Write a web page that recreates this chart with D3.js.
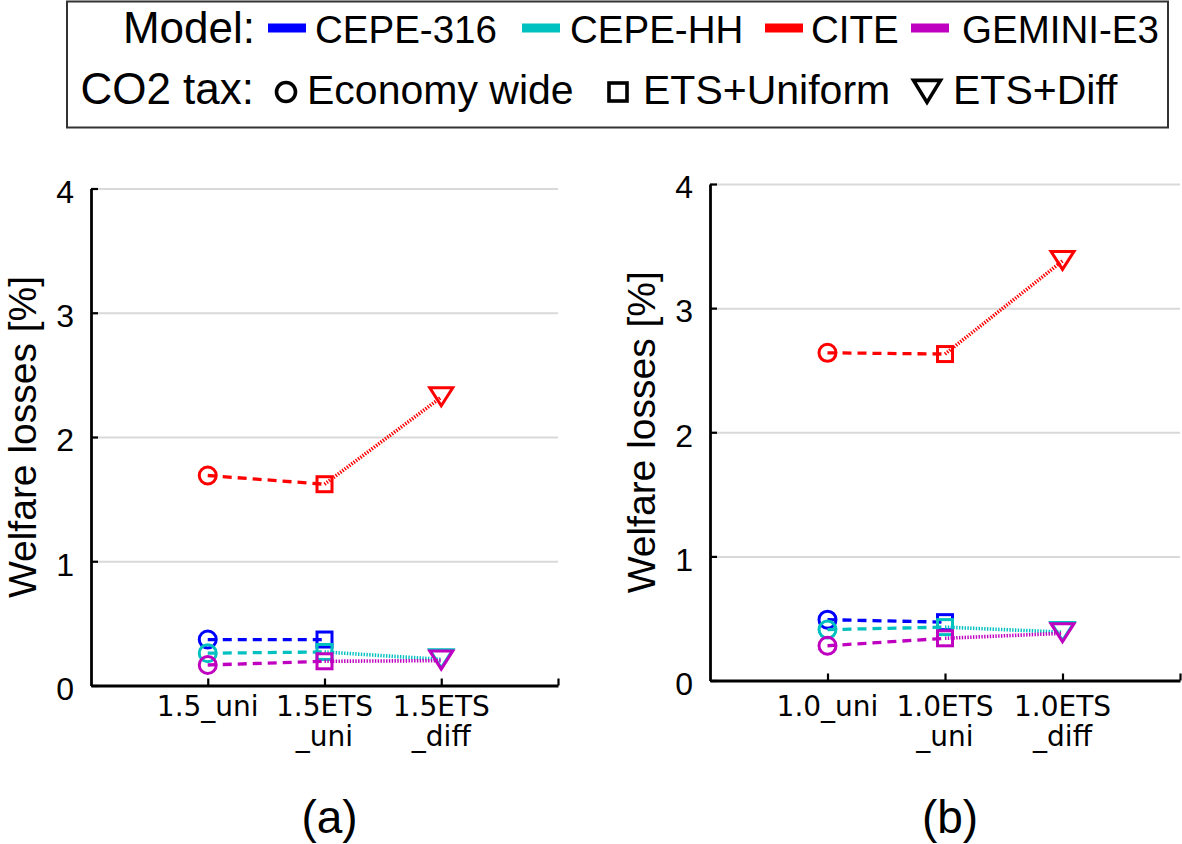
<!DOCTYPE html>
<html>
<head>
<meta charset="utf-8">
<script src="https://cdn.jsdelivr.net/npm/d3@7"></script>
<style>
  html, body { margin: 0; padding: 0; background: #ffffff; }
  svg { display: block; }
</style>
</head>
<body>
<svg id="chart" width="1182" height="844"></svg>
<script>
// ---------------- data ----------------
const models = ["CEPE-316", "CEPE-HH", "CITE", "GEMINI-E3"];
const modelColors = ["#0000ff", "#00c0c0", "#ff0000", "#c000c0"];
const taxTypes = ["Economy wide", "ETS+Uniform", "ETS+Diff"];
const yTicks = [0, 1, 2, 3, 4];

const scenariosA = ["1.5_uni", "1.5ETS\n_uni", "1.5ETS\n_diff"];
const scenariosB = ["1.0_uni", "1.0ETS\n_uni", "1.0ETS\n_diff"];

// welfare losses [%] per model, ordered as the scenarios (null = not reported)
const panelA_CEPE316 = [0.37, 0.37, null];
const panelA_CEPEHH  = [0.26, 0.27, 0.21];
const panelA_CITE    = [1.69, 1.62, 2.32];
const panelA_GEMINI  = [0.165, 0.195, 0.20];

const panelB_CEPE316 = [0.49, 0.47, null];
const panelB_CEPEHH  = [0.41, 0.43, 0.39];
const panelB_CITE    = [2.64, 2.63, 3.38];
const panelB_GEMINI  = [0.28, 0.34, 0.38];

const panels = [
  { tag: "(a)", cats: scenariosA, series: [panelA_CEPE316, panelA_CEPEHH, panelA_CITE, panelA_GEMINI],
    x0: 91, x1: 558, yTop: 188.5, yBot: 685.5 },
  { tag: "(b)", cats: scenariosB, series: [panelB_CEPE316, panelB_CEPEHH, panelB_CITE, panelB_GEMINI],
    x0: 710, x1: 1180, yTop: 184, yBot: 680.5 }
];

// ---------------- drawing ----------------
const svg = d3.select("#chart");
svg.append("rect").attr("width", 1182).attr("height", 844).attr("fill", "#fff");

const SANS = "'Liberation Sans', Arial, Helvetica, sans-serif";
const TICKFONT = "'DejaVu Sans', Verdana, sans-serif";

function markerShape(g, kind, cx, cy, color, size, sw) {
  if (kind === 0) {
    g.append("circle").attr("cx", cx).attr("cy", cy).attr("r", size.r)
      .attr("fill", "none").attr("stroke", color).attr("stroke-width", sw);
  } else if (kind === 1) {
    g.append("rect").attr("x", cx - size.s / 2).attr("y", cy - size.s / 2)
      .attr("width", size.s).attr("height", size.s)
      .attr("fill", "none").attr("stroke", color).attr("stroke-width", sw);
  } else {
    const w = size.tw / 2, hTop = size.th * 0.53, hBot = size.th * 0.47;
    g.append("path")
      .attr("d", `M${cx - w},${cy - hTop}L${cx + w},${cy - hTop}L${cx},${cy + hBot}Z`)
      .attr("fill", "none").attr("stroke", color).attr("stroke-width", sw)
      .attr("stroke-linejoin", "miter");
  }
}

panels.forEach(p => {
  const x = d3.scaleLinear().domain([0, 4]).range([p.x0, p.x1]);
  const y = d3.scaleLinear().domain([0, 4]).range([p.yBot, p.yTop]);
  const g = svg.append("g");

  // gridlines
  g.append("g")
    .attr("transform", `translate(${p.x0},0)`)
    .call(d3.axisLeft(y).tickValues(yTicks.filter(v => v > 0)).tickSize(-(p.x1 - p.x0)).tickFormat(""))
    .call(a => a.select(".domain").remove())
    .call(a => a.selectAll("line").attr("stroke", "#d9d9d9").attr("stroke-width", 2));

  // y axis
  g.append("g")
    .attr("transform", `translate(${p.x0},0)`)
    .call(d3.axisLeft(y).tickValues(yTicks).tickSize(-7).tickSizeOuter(0).tickPadding(17).tickFormat(d3.format("d")))
    .call(a => a.select(".domain").attr("stroke", "#000").attr("stroke-width", 2.8))
    .call(a => a.selectAll("line").attr("stroke", "#000").attr("stroke-width", 2.2))
    .call(a => a.selectAll("text").attr("font-family", SANS).attr("font-size", 32)
      .attr("fill", "#000").attr("dy", "0.43em"));

  // x axis
  g.append("g")
    .attr("transform", `translate(0,${p.yBot})`)
    .call(d3.axisBottom(x).tickValues([1, 2, 3, 4]).tickSize(-7).tickSizeOuter(0).tickFormat(""))
    .call(a => a.select(".domain").attr("stroke", "#000").attr("stroke-width", 2.8))
    .call(a => a.selectAll("line").attr("stroke", "#000").attr("stroke-width", 2.2));

  // x tick labels (one text per line)
  p.cats.forEach((c, i) => {
    c.split("\n").forEach((line, k) => {
      g.append("text")
        .attr("font-family", TICKFONT).attr("font-size", 28).attr("fill", "#000")
        .attr("text-anchor", "middle")
        .attr("x", x(i + 1)).attr("y", 716 + k * 30).text(line);
    });
  });

  // y title
  g.append("text")
    .attr("transform", `translate(${p.x0 - 55},${(p.yTop + p.yBot) / 2}) rotate(-90)`)
    .attr("text-anchor", "middle").attr("font-family", SANS).attr("font-size", 39)
    .attr("fill", "#000").text("Welfare losses [%]");

  // panel tag
  g.append("text")
    .attr("x", (p.x0 + p.x1) / 2 + 5).attr("y", 833)
    .attr("text-anchor", "middle").attr("font-family", SANS).attr("font-size", 46)
    .attr("fill", "#000").text(p.tag);

  // series
  p.series.forEach((vals, m) => {
    const color = modelColors[m];
    const sg = g.append("g");
    const pts = vals.map((v, i) => v == null ? null : [i + 1, v]);
    const line = d3.line().x(d => x(d[0])).y(d => y(d[1]));
    for (let i = 0; i < pts.length - 1; i++) {
      if (pts[i] && pts[i + 1]) {
        sg.append("path").attr("d", line([pts[i], pts[i + 1]]))
          .attr("fill", "none").attr("stroke", color)
          .attr("stroke-width", i === 0 ? 3.3 : 3.6)
          .attr("stroke-dasharray", i === 0 ? "9,6" : "1.4,1.4");
      }
    }
    pts.forEach((d, i) => {
      if (!d) return;
      markerShape(sg, i, x(d[0]), y(d[1]), color, { r: 8.5, s: 15, tw: 23, th: 18 }, 3);
    });
  });
});

// ---------------- legend ----------------
const lg = svg.append("g");
lg.append("rect").attr("x", 67).attr("y", 1.5).attr("width", 1101).attr("height", 126)
  .attr("fill", "#fff").attr("stroke", "#333").attr("stroke-width", 2);

lg.append("text").attr("x", 255).attr("y", 43).attr("text-anchor", "end")
  .attr("font-family", SANS).attr("font-size", 44).attr("fill", "#000").text("Model:");
lg.append("text").attr("x", 254).attr("y", 104).attr("text-anchor", "end")
  .attr("font-family", SANS).attr("font-size", 44).attr("fill", "#000").text("CO2 tax:");

const modelLegendX = [[268, 315], [522, 570], [765, 811], [911, 962]];
models.forEach((name, i) => {
  const [lx, tx] = modelLegendX[i];
  lg.append("line").attr("x1", lx).attr("x2", lx + 38).attr("y1", 28).attr("y2", 28)
    .attr("stroke", modelColors[i]).attr("stroke-width", 9);
  lg.append("text").attr("x", tx).attr("y", 43).attr("font-family", SANS)
    .attr("font-size", 38.5).attr("fill", "#000").text(name);
});

const taxLegendX = [[286, 307], [618, 643], [927, 953]];
taxTypes.forEach((name, i) => {
  const [mx, tx] = taxLegendX[i];
  markerShape(lg, i, mx, 92, "#000", { r: 9.5, s: 18, tw: 27, th: 22 }, 3.6);
  lg.append("text").attr("x", tx).attr("y", 104).attr("font-family", SANS)
    .attr("font-size", 41).attr("fill", "#000").text(name);
});
</script>
</body>
</html>
